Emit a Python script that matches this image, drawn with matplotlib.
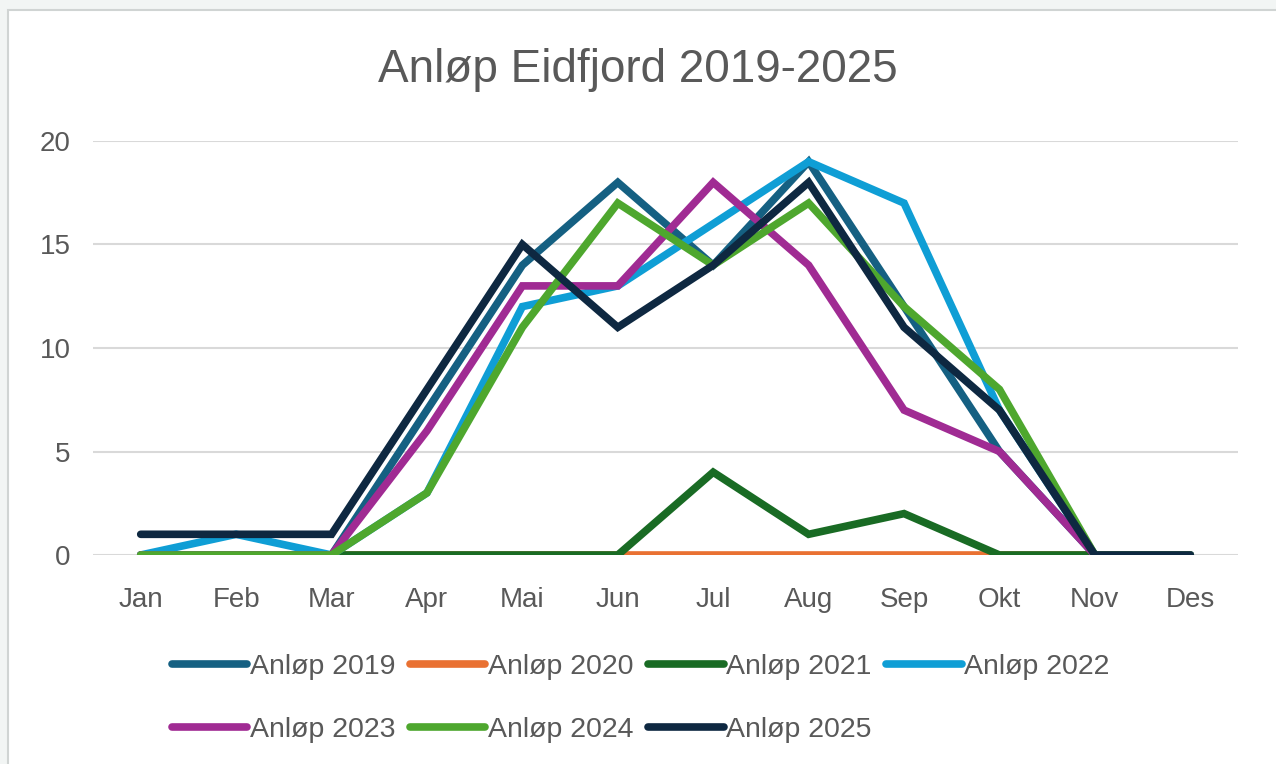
import matplotlib.pyplot as plt
from matplotlib.patches import Rectangle

months = ['Jan', 'Feb', 'Mar', 'Apr', 'Mai', 'Jun', 'Jul', 'Aug', 'Sep', 'Okt', 'Nov', 'Des']

anlop_2019 = [0, 0, 0, 7, 14, 18, 14, 19, 12, 5, 0, 0]
anlop_2020 = [0, 0, 0, 0, 0, 0, 0, 0, 0, 0, 0, 0]
anlop_2021 = [0, 0, 0, 0, 0, 0, 4, 1, 2, 0, 0, 0]
anlop_2022 = [0, 1, 0, 3, 12, 13, 16, 19, 17, 7, 0, 0]
anlop_2023 = [0, 0, 0, 6, 13, 13, 18, 14, 7, 5, 0, 0]
anlop_2024 = [0, 0, 0, 3, 11, 17, 14, 17, 12, 8, 0, 0]
anlop_2025 = [1, 1, 1, 8, 15, 11, 14, 18, 11, 7, 0, 0]

series = [
    ('Anløp 2019', anlop_2019, '#156082'),
    ('Anløp 2020', anlop_2020, '#E97132'),
    ('Anløp 2021', anlop_2021, '#196B24'),
    ('Anløp 2022', anlop_2022, '#0F9ED5'),
    ('Anløp 2023', anlop_2023, '#A02B93'),
    ('Anløp 2024', anlop_2024, '#4EA72E'),
    ('Anløp 2025', anlop_2025, '#0E2841'),
]

plt.rcParams['font.family'] = ['Liberation Sans', 'DejaVu Sans']
grey = '#595959'

fig = plt.figure(figsize=(12.76, 7.64), dpi=100)
fig.patch.set_facecolor('#F2F5F4')
fig.patches.append(Rectangle((8 / 1276, -0.01), 1, 1.01 - 10 / 764, transform=fig.transFigure,
                             facecolor='white', edgecolor='#D0D4D3', linewidth=1.5, zorder=-5))

ax = fig.add_axes([93 / 1276, 1 - 555 / 764, (1238 - 93) / 1276, (555 - 141) / 764])
ax.set_facecolor('none')
ax.set_zorder(2)

x = range(len(months))
lines = []
for name, vals, col in series:
    ln, = ax.plot(x, vals, color=col, linewidth=5.5, label=name, solid_joinstyle='miter',
                  solid_capstyle='round')
    lines.append(ln)

ax.set_xlim(-0.5, 11.5)
ax.set_ylim(0, 20)
ax.set_yticks([0, 5, 10, 15, 20])
ax.set_xticks(list(x))
ax.set_xticklabels(months)
ax.grid(axis='y', color='#D9D9D9', linewidth=1.5)
ax.set_axisbelow(True)
for s in ax.spines.values():
    s.set_visible(False)
ax.tick_params(length=0, labelsize=20, colors=grey)
ax.tick_params(axis='x', pad=23)
ax.tick_params(axis='y', pad=16)

fig.text(0.5, 1 - 70 / 764, 'Anløp Eidfjord 2019-2025', ha='center', va='center',
         fontsize=33, color=grey)

# legend fills column by column, so reorder to get rows 2019-2022 / 2023-2025
order = [0, 4, 1, 5, 2, 6, 3]
leg = fig.legend([lines[i] for i in order], [series[i][0] for i in order],
                 loc='upper left', bbox_to_anchor=(172 / 1276, 1 - 654 / 764), ncol=4,
                 frameon=False, fontsize=20.5, handlelength=2.65, handletextpad=0.1,
                 columnspacing=0.5, labelspacing=1.3, labelcolor=grey,
                 borderaxespad=0, borderpad=0)

fig.savefig('out.png', dpi=100, facecolor=fig.get_facecolor())
